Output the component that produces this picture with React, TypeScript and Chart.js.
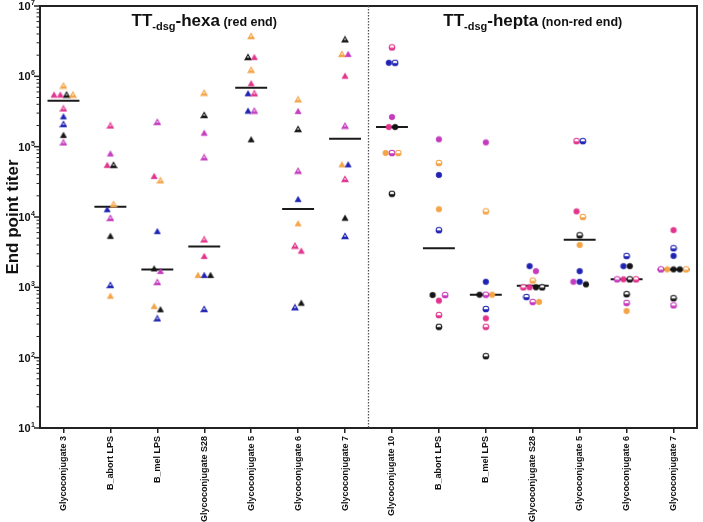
import React, { useEffect, useRef } from 'react';
import { Chart, registerables } from 'chart.js';

Chart.register(...registerables);

const FONT = '"Liberation Sans", Arial, Helvetica, sans-serif';

const categories = [
  'Glycoconjugate 3', 'B_abort LPS', 'B_mel LPS', 'Glycoconjugate S28', 'Glycoconjugate 5', 'Glycoconjugate 6', 'Glycoconjugate 7',
  'Glycoconjugate 10', 'B_abort LPS', 'B_mel LPS', 'Glycoconjugate S28', 'Glycoconjugate 5', 'Glycoconjugate 6', 'Glycoconjugate 7',
];

// first index of the second group (non-red end, circle markers)
const splitIndex = 7;

// titers per category, in reading order (top to bottom, left to right)
const titers: number[][] = [
  [7.4e5, 5.5e5, 5.5e5, 5.5e5, 5.5e5, 3.5e5, 2.7e5, 2.1e5, 1.47e5, 1.15e5],
  [2.0e5, 8.0e4, 5.5e4, 5.5e4, 1.29e4, 1.52e4, 9.7e3, 5.4e3, 1.08e3, 760],
  [2.25e5, 3.83e4, 3.33e4, 6.3e3, 1.86e3, 1.71e3, 1.19e3, 542, 487, 362],
  [5.86e5, 2.82e5, 1.58e5, 7.06e4, 4.8e3, 2.79e3, 1.5e3, 1.5e3, 1.5e3, 492],
  [3.74e6, 1.88e6, 1.88e6, 1.24e6, 7.96e5, 5.74e5, 5.74e5, 3.25e5, 3.25e5, 1.27e5],
  [4.71e5, 3.21e5, 1.78e5, 4.55e4, 1.8e4, 8.13e3, 3.91e3, 3.32e3, 520, 604],
  [3.36e6, 2.08e6, 2.08e6, 1.02e6, 1.99e5, 5.61e4, 5.61e4, 3.47e4, 9.77e3, 5.37e3],
  [2.58e6, 1.56e6, 1.56e6, 2.64e5, 1.9e5, 1.9e5, 8.13e4, 8.13e4, 8.13e4, 2.14e4],
  [1.27e5, 5.86e4, 3.96e4, 1.29e4, 6.5e3, 778, 646, 778, 404, 275],
  [1.15e5, 1.2e4, 1.2e3, 785, 785, 785, 492, 362, 275, 105],
  [2.0e3, 1.7e3, 1.25e3, 1.0e3, 1.0e3, 1.0e3, 1.0e3, 730, 620, 620],
  [1.2e5, 1.2e5, 1.2e4, 1.0e4, 5.5e3, 4.0e3, 1.7e3, 1.2e3, 1.2e3, 1.1e3],
  [2.8e3, 2.0e3, 2.0e3, 1.3e3, 1.3e3, 1.3e3, 1.3e3, 800, 600, 460],
  [6.5e3, 3.6e3, 2.8e3, 1.8e3, 1.8e3, 1.8e3, 1.8e3, 1.8e3, 700, 555],
];

// marker codes: colour letter + '+' (filled) or '-' (half filled)
const markers: string[][] = [
  ['O-', 'P+', 'P+', 'K-', 'O-', 'P-', 'B+', 'B-', 'K+', 'M-'],
  ['P-', 'M+', 'P+', 'K-', 'B+', 'O-', 'M-', 'K+', 'B-', 'O+'],
  ['M-', 'P+', 'O-', 'B+', 'K+', 'M+', 'M-', 'O+', 'K+', 'B-'],
  ['O-', 'K-', 'M+', 'M-', 'P-', 'P+', 'O+', 'B+', 'K+', 'B-'],
  ['O-', 'K-', 'P+', 'O-', 'P+', 'B+', 'P-', 'B+', 'M-', 'K+'],
  ['O-', 'M+', 'K-', 'M-', 'B+', 'O+', 'P-', 'P+', 'B-', 'K+'],
  ['K-', 'O-', 'M+', 'P+', 'M-', 'O+', 'B+', 'P-', 'K+', 'B-'],
  ['P-', 'B+', 'B-', 'M+', 'P+', 'K+', 'O+', 'M-', 'O-', 'K-'],
  ['M+', 'O-', 'B+', 'O+', 'B-', 'K+', 'P+', 'M-', 'P-', 'K-'],
  ['M+', 'O-', 'B+', 'K+', 'M-', 'O+', 'B-', 'P+', 'P-', 'K-'],
  ['B+', 'M+', 'O-', 'P-', 'P+', 'K+', 'K-', 'B-', 'M-', 'O+'],
  ['P-', 'B-', 'P+', 'O-', 'K-', 'O+', 'B+', 'M+', 'B+', 'K+'],
  ['B-', 'B+', 'K+', 'M-', 'P+', 'K-', 'P-', 'K-', 'M-', 'O+'],
  ['P+', 'B-', 'B+', 'M-', 'O+', 'K+', 'K+', 'O-', 'K-', 'M-'],
];

const medians = [4.5e5, 1.4e4, 1.8e3, 3.8e3, 6.9e5, 1.3e4, 1.3e5, 1.9e5, 3.6e3, 785, 1.05e3, 4.75e3, 1.3e3, 1.8e3];

const yExponents = [1, 2, 3, 4, 5, 6, 7];

const groupTitles = [
  ['TT', '-dsg', '-hexa', ' (red end)'],
  ['TT', '-dsg', '-hepta', ' (non-red end)'],
];

const COLORS: Record<string, string> = {
  O: '#F4A447',
  P: '#E2338C',
  M: '#C43BBE',
  B: '#1F23B3',
  K: '#141414',
};

const JITTER = 0.134;
const CLUSTER_DECADES = 0.085;
const MEDIAN_HALF = 0.34;

const imgCache: Record<string, HTMLCanvasElement> = {};
function markerImage(shape: 'triangle' | 'circle', code: string): HTMLCanvasElement {
  const key = shape + code;
  if (imgCache[key]) return imgCache[key];
  const color = COLORS[code[0]];
  const half = code[1] === '-';
  const size = 8;
  const c = document.createElement('canvas');
  c.width = size;
  c.height = size;
  const g = c.getContext('2d')!;
  const path = new Path2D();
  if (shape === 'triangle') {
    path.moveTo(4, 1.4);
    path.lineTo(7.0, 6.7);
    path.lineTo(1.0, 6.7);
    path.closePath();
  } else {
    path.arc(4, 4, 2.8, 0, Math.PI * 2);
  }
  if (half) {
    g.fillStyle = '#ffffff';
    g.fill(path);
    g.save();
    g.beginPath();
    g.rect(0, shape === 'triangle' ? 4.6 : 4.2, size, size);
    g.clip();
    g.fillStyle = color;
    g.fill(path);
    g.restore();
    g.strokeStyle = color;
    g.lineWidth = 1.1;
    g.stroke(path);
  } else {
    g.fillStyle = color;
    g.fill(path);
    g.strokeStyle = color;
    g.lineWidth = 0.7;
    g.stroke(path);
  }
  imgCache[key] = c;
  return c;
}

// horizontal spread of points that would overlap (cluster by log distance)
function spread(values: number[]): number[] {
  const order = values.map((_, i) => i).sort((a, b) => values[b] - values[a] || a - b);
  const offs = new Array(values.length).fill(0);
  let cluster: number[] = [];
  const flush = () => {
    const s = [...cluster].sort((a, b) => a - b);
    s.forEach((j, k) => { offs[j] = (k - (s.length - 1) / 2) * JITTER; });
    cluster = [];
  };
  order.forEach((i) => {
    if (cluster.length && Math.log10(values[cluster[cluster.length - 1]]) - Math.log10(values[i]) > CLUSTER_DECADES) flush();
    cluster.push(i);
  });
  flush();
  return offs;
}

const decorPlugin = {
  id: 'decor',
  afterDraw(chart: any) {
    const { ctx, chartArea: a, scales } = chart;
    const xs = scales.x;
    const ys = scales.y;
    ctx.save();
    // frame
    ctx.strokeStyle = '#222';
    ctx.lineWidth = 2;
    ctx.strokeRect(a.left, a.top, a.right - a.left, a.bottom - a.top);
    // dotted separator between the two groups
    const sx = (xs.getPixelForValue(splitIndex - 1) + xs.getPixelForValue(splitIndex)) / 2;
    ctx.setLineDash([1.5, 1.5]);
    ctx.lineWidth = 1.3;
    ctx.strokeStyle = '#555';
    ctx.beginPath();
    ctx.moveTo(sx, a.top);
    ctx.lineTo(sx, a.bottom);
    ctx.stroke();
    ctx.setLineDash([]);
    // y ticks (major + minor)
    ctx.strokeStyle = '#222';
    for (let e = yExponents[0]; e <= yExponents[yExponents.length - 1]; e++) {
      for (let k = 1; k <= 9; k++) {
        const v = k * Math.pow(10, e);
        if (v > Math.pow(10, yExponents[yExponents.length - 1])) break;
        const y = ys.getPixelForValue(v);
        const len = k === 1 ? 5 : 2.5;
        ctx.lineWidth = k === 1 ? 1.5 : 1;
        ctx.beginPath();
        ctx.moveTo(a.left - 1, y);
        ctx.lineTo(a.left - 1 - len, y);
        ctx.stroke();
      }
    }
    // y labels 10^n
    ctx.fillStyle = '#111';
    yExponents.forEach((e) => {
      const y = ys.getPixelForValue(Math.pow(10, e));
      ctx.font = `bold 7px ${FONT}`;
      const ew = ctx.measureText(String(e)).width;
      const xr = a.left - 5;
      ctx.textAlign = 'right';
      ctx.textBaseline = 'alphabetic';
      ctx.fillText(String(e), xr, y - 1);
      ctx.font = `bold 11px ${FONT}`;
      ctx.textBaseline = 'middle';
      ctx.fillText('10', xr - ew - 0.5, y + 1);
    });
    // y title
    ctx.save();
    ctx.translate(13, (a.top + a.bottom) / 2);
    ctx.rotate(-Math.PI / 2);
    ctx.textAlign = 'center';
    ctx.textBaseline = 'middle';
    ctx.font = `bold 17px ${FONT}`;
    ctx.fillText('End point titer', 0, 0);
    ctx.restore();
    // group titles
    const fonts = [`bold 17px ${FONT}`, `bold 11px ${FONT}`, `bold 17px ${FONT}`, `bold 12.5px ${FONT}`];
    const drops = [0, 4, 0, 0];
    groupTitles.forEach((parts, gi) => {
      const first = gi === 0 ? 0 : splitIndex;
      const last = gi === 0 ? splitIndex - 1 : categories.length - 1;
      const cx = xs.getPixelForValue((first + last) / 2);
      const widths = parts.map((p, i) => { ctx.font = fonts[i]; return ctx.measureText(p).width; });
      const total = widths.reduce((s, w) => s + w, 0);
      let x = cx - total / 2;
      ctx.textAlign = 'left';
      ctx.textBaseline = 'alphabetic';
      parts.forEach((p, i) => {
        ctx.font = fonts[i];
        ctx.fillText(p, x, a.top + 20 + drops[i]);
        x += widths[i];
      });
    });
    ctx.restore();
  },
};

export default function App() {
  const ref = useRef<HTMLCanvasElement>(null);
  useEffect(() => {
    const canvas = ref.current!;
    const pointSets = titers.map((vals, ci) => {
      const offs = spread(vals);
      const shape = ci < splitIndex ? 'triangle' : 'circle';
      return {
        type: 'scatter' as const,
        data: vals.map((v, i) => ({ x: ci + offs[i], y: v })),
        pointStyle: markers[ci].map((m) => markerImage(shape, m)),
        pointRadius: 4,
        pointHoverRadius: 4,
        showLine: false,
      };
    });
    const medianData: any[] = [];
    medians.forEach((m, i) => {
      medianData.push({ x: i - MEDIAN_HALF, y: m }, { x: i + MEDIAN_HALF, y: m }, { x: i + MEDIAN_HALF, y: null });
    });
    const chart = new Chart(canvas, {
      type: 'scatter',
      data: {
        datasets: [
          ...pointSets,
          {
            type: 'scatter' as const,
            data: medianData,
            showLine: true,
            spanGaps: false,
            borderColor: '#1a1a1a',
            borderWidth: 2,
            pointRadius: 0,
            pointHoverRadius: 0,
          } as any,
        ],
      },
      options: {
        animation: false,
        responsive: false,
        events: [],
        layout: { padding: { top: 6, right: 6, left: 0, bottom: 0 } },
        plugins: { legend: { display: false }, tooltip: { enabled: false } },
        scales: {
          x: {
            type: 'linear',
            min: -0.5,
            max: categories.length - 0.5,
            afterBuildTicks: (s: any) => { s.ticks = categories.map((_, i) => ({ value: i })); },
            afterFit: (s: any) => { s.height = 94; },
            ticks: {
              autoSkip: false,
              minRotation: 90,
              maxRotation: 90,
              padding: 3,
              color: '#111',
              font: { family: FONT, size: 9, weight: 'bold' },
              callback: (v: any) => categories[Math.round(Number(v))],
            },
            grid: { drawOnChartArea: false, drawTicks: true, tickLength: 5, color: '#222', lineWidth: 1.5 },
            border: { display: false },
          },
          y: {
            type: 'logarithmic',
            min: Math.pow(10, yExponents[0]),
            max: Math.pow(10, yExponents[yExponents.length - 1]),
            afterFit: (s: any) => { s.width = 40; },
            ticks: { display: false },
            grid: { display: false },
            border: { display: false },
          },
        },
      } as any,
      plugins: [decorPlugin],
    });
    return () => chart.destroy();
  }, []);
  return (
    <div style={{ position: 'absolute', left: 0, top: 0, width: 703, height: 522, background: '#fff' }}>
      <canvas ref={ref} width={703} height={522} style={{ display: 'block' }} />
    </div>
  );
}
